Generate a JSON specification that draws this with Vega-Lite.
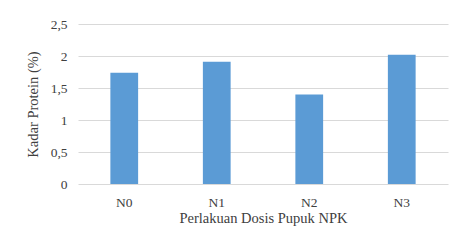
{
  "$schema": "https://vega.github.io/schema/vega-lite/v6.json",
  "width": 370,
  "height": 160,
  "autosize": {"type": "none"},
  "padding": {"left": 78, "top": 24, "right": 9, "bottom": 62},
  "background": "white",
  "data": {"values": [
    {"perlakuan": "N0", "protein": 1.74},
    {"perlakuan": "N1", "protein": 1.91},
    {"perlakuan": "N2", "protein": 1.40},
    {"perlakuan": "N3", "protein": 2.02}
  ]},
  "config": {
    "view": {"stroke": null},
    "font": "Liberation Serif",
    "axis": {"labelFont": "Liberation Serif", "titleFont": "Liberation Serif", "labelColor": "#404040", "titleColor": "#404040", "titleFontWeight": "normal", "labelFontSize": 13.5, "titleFontSize": 14.5}
  },
  "mark": {"type": "bar", "color": "#5B9BD5"},
  "encoding": {
    "x": {"field": "perlakuan", "type": "nominal", "sort": null,
      "scale": {"paddingInner": 0.7, "paddingOuter": 0.35},
      "axis": {"title": "Perlakuan Dosis Pupuk NPK", "labelAngle": 0, "ticks": false, "domain": false, "labelPadding": 11, "titlePadding": 3}},
    "y": {"field": "protein", "type": "quantitative",
      "scale": {"domain": [0, 2.5]},
      "axis": {"title": "Kadar Protein (%)", "values": [0, 0.5, 1, 1.5, 2, 2.5], "labelExpr": "replace(format(datum.value, '~g'), '.', ',')", "ticks": false, "domain": false, "gridColor": "#d9d9d9", "labelPadding": 11, "titlePadding": 10}}
  }
}
